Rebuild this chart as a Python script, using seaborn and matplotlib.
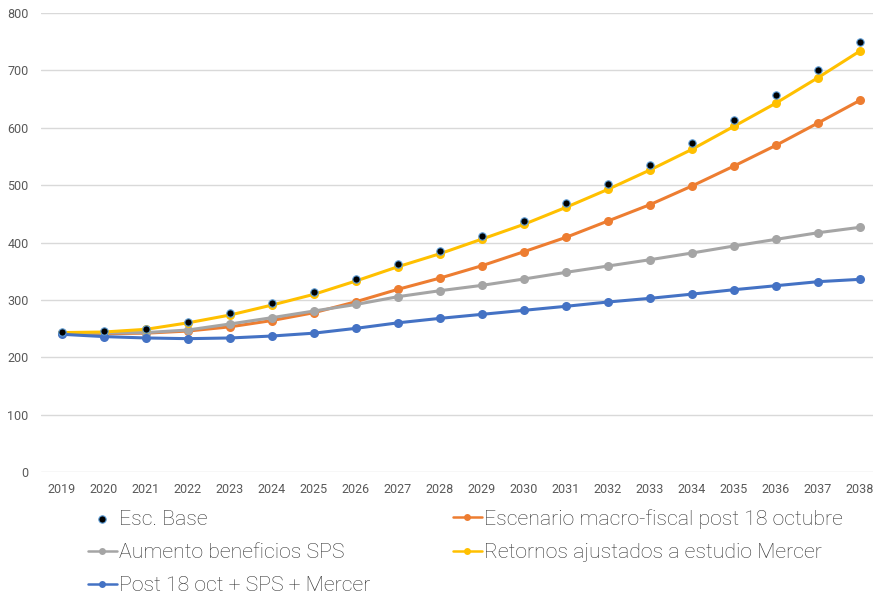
import matplotlib
matplotlib.use("Agg")
import matplotlib.pyplot as plt
import seaborn as sns
import pandas as pd

years = list(range(2019, 2039))

esc_base = [243.5, 245, 250, 262, 276.6, 295, 314, 337, 362, 385, 411, 438, 468.5,
            501.4, 535.6, 572.9, 614, 656.5, 701.2, 749.5]
macro_fiscal = [243, 241, 242, 245.7, 253, 264, 277.7, 296.8, 318.4, 338, 359.6, 384, 409,
                437.5, 466, 498.5, 533.3, 569.4, 608.3, 647.8]
aumento_sps = [241.7, 242.4, 243, 247.5, 258, 269, 280.6, 292, 305.6, 316, 325.3, 336.4, 348,
               359, 370, 381.7, 393.9, 405.5, 417, 426.5]
retornos_mercer = [243, 244, 248.7, 260, 273.6, 291, 309.7, 333, 357.8, 380.5, 406, 431.7, 461.3,
                   492.7, 526.4, 562.4, 602.5, 643, 687.3, 733.8]
post_sps_mercer = [240, 236, 233.6, 232.4, 233.6, 237, 242, 250.4, 260, 267.8, 274.8, 281.8, 288.8,
                   296.3, 302.7, 310, 317.7, 324.7, 331.7, 335.8]

labels = {
    "esc": "Esc. Base",
    "macro": "Escenario macro-fiscal post 18 octubre",
    "sps": "Aumento beneficios SPS",
    "mercer": "Retornos ajustados a estudio Mercer",
    "post": "Post 18 oct + SPS + Mercer",
}
y_ticks = [0, 100, 200, 300, 400, 500, 600, 700, 800]

sns.set_theme(style="white")
plt.rcParams["font.family"] = ["Roboto", "DejaVu Sans"]

fig = plt.figure(figsize=(8.73, 5.98), dpi=100)
W, H = 873, 598
ax = fig.add_axes([41 / W, 1 - 472 / H, (881 - 41) / W, (472 - 13) / H])

df = pd.DataFrame({"year": years, "macro": macro_fiscal, "sps": aumento_sps,
                   "mercer": retornos_mercer, "post": post_sps_mercer, "esc": esc_base})

line_styles = [
    ("macro", "#ED7D31"),
    ("sps", "#A5A5A5"),
    ("mercer", "#FFC000"),
    ("post", "#4472C4"),
]
for key, color in line_styles:
    sns.lineplot(data=df, x="year", y=key, ax=ax, color=color, linewidth=2.2,
                 marker="o", markersize=6.5, markeredgewidth=0, label=labels[key],
                 zorder=3)

sns.scatterplot(data=df, x="year", y="esc", ax=ax, color="black", s=28,
                edgecolor="#5B9BD5", linewidth=0.8, zorder=5, label=labels["esc"])

ax.set_xlim(2018.5, 2038.5)
ax.set_ylim(0, 800)
ax.set_xticks(years)
ax.set_xticklabels([str(y) for y in years])
ax.set_yticks(y_ticks)
ax.set_xlabel("")
ax.set_ylabel("")
ax.grid(axis="y", color="#D9D9D9", linewidth=1)
ax.grid(axis="x", visible=False)
for s in ax.spines.values():
    s.set_visible(False)
ax.tick_params(axis="both", length=0, labelsize=9, labelcolor="#595959")
ax.tick_params(axis="y", pad=9)
ax.tick_params(axis="x", pad=8)
ax.legend_.remove()

h, l = ax.get_legend_handles_labels()
lab2h = dict(zip(l, h))
order = ["esc", "sps", "post", "macro", "mercer"]
leg = fig.legend([lab2h[labels[k]] for k in order], [labels[k] for k in order],
                 ncol=2, loc="upper left", bbox_to_anchor=(88 / W, 1 - 509 / H),
                 frameon=False, handlelength=1.35, handletextpad=0.1,
                 columnspacing=3.9, labelspacing=0.67, borderpad=0, borderaxespad=0,
                 prop={"family": ["Roboto", "DejaVu Sans"], "weight": "light", "size": 15.3})
for t in leg.get_texts():
    t.set_color("#333333")
for lh in leg.legend_handles:
    if hasattr(lh, "set_linewidth") and hasattr(lh, "set_markersize"):
        lh.set_linewidth(1.8)
        lh.set_markersize(5)

fig.savefig("out.png", dpi=100)
